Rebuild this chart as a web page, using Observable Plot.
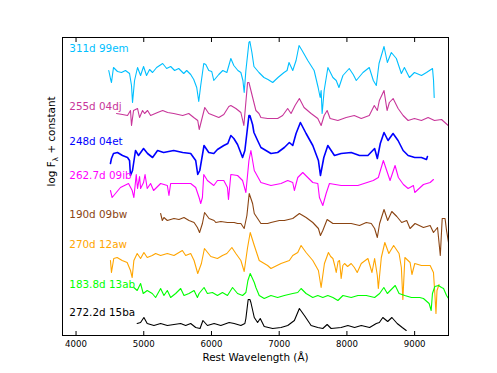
<!DOCTYPE html>
<html><head><meta charset="utf-8">
<script src="https://cdn.jsdelivr.net/npm/d3@7"></script>
<script src="https://cdn.jsdelivr.net/npm/@observablehq/plot@0.6"></script>
<style>body{margin:0;background:#fff}</style>
</head><body><div id="chart"></div>
<script>
const xTicks = [4000, 5000, 6000, 7000, 8000, 9000];
const xLabel = "Rest Wavelength (Å)";
const yLabel = "log Fλ + constant";
const seriesNames = ["99em", "04dj", "04et", "09ib", "09bw", "12aw", "13ab", "15ba"];
const seriesLabels = ["311d 99em", "255d 04dj", "248d 04et", "262.7d 09ib", "190d 09bw", "270d 12aw", "183.8d 13ab", "272.2d 15ba"];
const seriesColors = ["#00bfff", "#c8369a", "#0000ff", "#ff00ff", "#8b4513", "#ffa500", "#00ff00", "#000000"];
const seriesWidths = [1.1, 1.1, 1.6, 1.1, 1.1, 1.1, 1.1, 1.1];
const labelLevel = [287, 229, 194, 160, 121, 91, 50.5, 22.5];
const labelWavelength = 3900;

// [rest wavelength (Å), log flux + constant (arbitrary units)]
const spec99em = [[4483,265],[4508,257],[4523,253],[4553,268],[4612,264],[4671,263],[4730,265],[4790,262],[4819,250],[4834,233],[4864,255],[4908,268],[4953,260],[4997,269],[5041,260],[5086,266],[5130,263],[5190,268],[5279,272],[5338,267],[5397,269],[5456,265],[5516,267],[5590,262],[5634,265],[5693,261],[5738,256],[5782,248],[5812,234],[5841,250],[5886,272],[5916,271],[5960,265],[6004,264],[6034,255],[6108,261],[6167,265],[6227,263],[6286,277],[6330,270],[6390,265],[6434,263],[6464,255],[6483,243],[6508,265],[6553,293],[6567,294],[6597,283],[6627,269],[6701,263],[6775,258],[6834,256],[6904,253],[6982,258],[7071,263],[7116,265],[7145,273],[7200,265],[7249,275],[7293,290],[7338,285],[7422,275],[7516,265],[7575,248],[7605,238],[7619,245],[7634,222],[7664,245],[7719,268],[7793,258],[7842,255],[7882,248],[7941,260],[8034,267],[8093,261],[8138,255],[8237,263],[8330,268],[8390,255],[8434,250],[8474,272],[8548,289],[8597,273],[8656,283],[8730,277],[8804,262],[8849,268],[8923,258],[8997,263],[9101,260],[9175,263],[9264,267],[9279,255],[9289,238]];
const spec04dj = [[4597,222],[4686,221],[4760,220],[4804,225],[4819,210],[4849,225],[4908,227],[4938,218],[4982,225],[5012,222],[5056,225],[5101,220],[5204,223],[5279,225],[5353,223],[5442,222],[5575,220],[5664,222],[5738,218],[5797,215],[5819,206],[5871,220],[5901,228],[5960,222],[6034,220],[6108,218],[6182,221],[6256,229],[6286,230],[6360,227],[6434,223],[6478,210],[6533,253],[6553,253],[6608,238],[6656,225],[6701,222],[6730,218],[6829,217],[6977,217],[7051,220],[7125,227],[7175,222],[7234,230],[7298,237],[7367,228],[7471,222],[7570,217],[7619,210],[7664,220],[7708,225],[7752,217],[7866,215],[7989,218],[8108,220],[8212,217],[8330,220],[8404,230],[8449,225],[8479,235],[8548,245],[8593,225],[8627,233],[8682,237],[8756,227],[8830,220],[8904,215],[8997,217],[9100,215],[9199,218],[9293,215],[9397,216],[9496,210]];
const spec04et = [[4508,172],[4523,177],[4553,182],[4612,183],[4686,180],[4760,178],[4790,175],[4804,160],[4834,165],[4878,185],[4923,180],[4997,187],[5056,182],[5130,178],[5204,185],[5293,183],[5442,185],[5575,183],[5693,182],[5767,175],[5797,161],[5827,165],[5890,190],[5960,183],[6034,182],[6088,186],[6182,190],[6241,192],[6286,200],[6330,197],[6385,191],[6459,178],[6493,185],[6553,220],[6567,220],[6607,211],[6627,203],[6681,195],[6730,188],[6878,182],[6977,183],[7076,188],[7150,193],[7200,190],[7249,202],[7313,213],[7397,202],[7496,190],[7579,175],[7609,160],[7659,178],[7718,190],[7816,180],[7915,182],[8063,183],[8186,180],[8310,180],[8409,187],[8449,177],[8493,192],[8548,203],[8607,195],[8681,202],[8755,195],[8830,185],[8904,180],[9002,178],[9100,178],[9175,176],[9189,179]];
const spec09ib = [[4508,145],[4533,138],[4582,142],[4656,148],[4775,152],[4829,145],[4854,138],[4889,161],[4908,147],[4938,159],[4953,147],[4997,153],[5019,161],[5051,147],[5101,152],[5145,145],[5249,152],[5348,150],[5372,140],[5397,152],[5545,152],[5693,152],[5767,148],[5817,138],[5841,132],[5866,138],[5886,161],[5940,155],[6034,150],[6088,155],[6182,155],[6236,148],[6251,136],[6286,161],[6385,160],[6459,155],[6508,143],[6553,175],[6582,185],[6632,165],[6730,153],[6878,150],[7027,152],[7126,155],[7200,153],[7224,145],[7274,158],[7348,163],[7422,158],[7496,153],[7570,152],[7594,138],[7644,130],[7693,142],[7742,152],[7915,150],[8162,150],[8389,155],[8464,158],[8538,175],[8587,165],[8637,155],[8711,170],[8760,158],[8834,151],[8904,147],[8982,150],[9002,143],[9130,151],[9229,153],[9278,156]];
const spec09bw = [[5249,122],[5274,115],[5298,118],[5348,115],[5446,117],[5520,116],[5594,118],[5668,115],[5743,113],[5792,108],[5824,103],[5866,112],[5898,123],[5964,117],[6039,115],[6064,113],[6138,114],[6236,113],[6335,113],[6385,112],[6434,112],[6483,107],[6523,120],[6557,142],[6607,132],[6632,122],[6681,117],[6730,112],[6829,112],[6878,113],[7002,115],[7076,115],[7200,117],[7298,122],[7397,118],[7496,113],[7579,107],[7609,100],[7644,105],[7708,116],[7793,112],[7915,112],[8063,112],[8186,110],[8286,113],[8360,112],[8409,107],[8449,98],[8483,112],[8548,126],[8602,115],[8663,124],[8737,119],[8809,113],[8883,115],[8932,107],[9006,112],[9130,108],[9229,110],[9278,103],[9338,108],[9379,80],[9407,117],[9449,117],[9471,105],[9500,93]];
const spec12aw = [[4508,75],[4523,63],[4557,77],[4607,78],[4681,75],[4755,73],[4804,65],[4829,58],[4854,75],[4903,82],[4953,77],[5002,83],[5051,78],[5125,80],[5175,82],[5249,80],[5348,82],[5446,80],[5570,85],[5619,80],[5693,82],[5743,75],[5797,62],[5851,72],[5896,87],[5990,79],[6088,77],[6162,80],[6227,82],[6301,88],[6360,82],[6434,75],[6483,64],[6533,88],[6572,103],[6632,90],[6705,75],[6829,70],[6878,67],[7027,72],[7150,75],[7200,80],[7274,83],[7323,90],[7397,83],[7496,75],[7579,65],[7619,48],[7668,72],[7727,83],[7760,79],[7793,77],[7820,70],[7842,63],[7870,74],[7891,75],[7915,57],[7940,70],[7965,72],[8010,69],[8063,72],[8110,68],[8152,63],[8212,72],[8310,77],[8340,70],[8370,63],[8409,77],[8449,60],[8464,47],[8508,78],[8560,93],[8619,82],[8690,90],[8770,82],[8804,68],[8826,36],[8856,78],[8933,73],[8960,61],[9002,72],[9100,70],[9229,70],[9278,63],[9300,40],[9315,22],[9330,45],[9360,51]];
const spec13ab = [[4853,48],[4903,45],[4953,52],[4992,42],[5051,45],[5125,42],[5175,38],[5249,47],[5298,40],[5348,45],[5397,38],[5471,42],[5545,47],[5594,40],[5668,42],[5743,45],[5792,38],[5817,42],[5890,48],[5940,42],[6014,43],[6088,40],[6162,43],[6236,40],[6311,48],[6385,42],[6459,40],[6508,43],[6538,55],[6572,62],[6632,53],[6656,48],[6705,40],[6779,37],[6878,40],[6977,38],[7076,40],[7200,42],[7274,43],[7323,47],[7397,42],[7496,38],[7570,40],[7644,38],[7718,40],[7793,38],[7867,35],[7941,40],[8063,38],[8162,40],[8286,40],[8409,38],[8483,42],[8545,48],[8597,42],[8713,50],[8770,42],[8853,40],[8952,38],[9075,38],[9130,37],[9214,32],[9244,25],[9263,42],[9298,49],[9353,50],[9397,48],[9427,47],[9471,40],[9500,37]];
const spec15ba = [[4903,12],[4953,13],[5002,18],[5051,12],[5150,10],[5249,12],[5348,10],[5446,11],[5545,12],[5619,10],[5693,12],[5767,8],[5831,7],[5874,15],[5940,10],[6039,12],[6138,10],[6261,13],[6335,12],[6434,10],[6493,12],[6508,17],[6542,36],[6567,36],[6582,33],[6632,18],[6681,13],[6720,17],[6779,9],[6903,7],[7027,8],[7126,10],[7224,15],[7298,27],[7372,20],[7471,10],[7570,8],[7644,7],[7708,11],[7767,7],[7915,8],[8014,10],[8113,8],[8212,10],[8335,8],[8434,12],[8479,13],[8530,18],[8602,14],[8664,18],[8742,12],[8817,8],[8876,5]];

const spectra = [spec99em, spec04dj, spec04et, spec09ib, spec09bw, spec12aw, spec13ab, spec15ba];
const labelRows = seriesLabels.map((t, i) => ({text: t, x: labelWavelength, y: labelLevel[i], color: seriesColors[i]}));

const chart = Plot.plot({
  width: 497,
  height: 373,
  marginLeft: 62,
  marginRight: 49,
  marginTop: 37,
  marginBottom: 38,
  style: {fontFamily: "DejaVu Sans", fontSize: "8.6px", background: "white", color: "black"},
  x: {domain: [3800, 9500]},
  y: {domain: [0, 298]},
  marks: [
    ...spectra.map((s, i) => Plot.line(s, {x: d => d[0], y: d => d[1], stroke: seriesColors[i], strokeWidth: seriesWidths[i], clip: true})),
    Plot.text(labelRows, {x: "x", y: "y", text: "text", fill: "color", textAnchor: "start", lineAnchor: "middle", fontSize: 10.4}),
    Plot.axisX({anchor: "bottom", ticks: xTicks, tickSize: -4, tickPadding: 9.5, tickFormat: d => String(d), label: null, fontSize: 8.6}),
    Plot.axisX({anchor: "top", ticks: xTicks, tickSize: -4, tickFormat: () => "", label: null}),
    Plot.axisY({ticks: [], label: null}),
    Plot.text([xLabel], {frameAnchor: "bottom", dy: 22, text: d => d, lineAnchor: "middle", fontSize: 10.4}),
    Plot.text([yLabel], {frameAnchor: "left", dx: -11, rotate: -90, text: d => d, lineAnchor: "middle", fontSize: 10.4}),
    Plot.frame({stroke: "black", strokeWidth: 1})
  ]
});

// subscript λ in the y label
const yl = [...chart.querySelectorAll("text")].find(n => n.textContent === yLabel);
if (yl) {
  yl.textContent = "";
  const ns = "http://www.w3.org/2000/svg";
  const a = document.createElementNS(ns, "tspan"); a.textContent = "log F"; yl.appendChild(a);
  const b = document.createElementNS(ns, "tspan"); b.textContent = "λ"; b.setAttribute("dy", "3"); b.setAttribute("font-size", "7.5"); yl.appendChild(b);
  const c = document.createElementNS(ns, "tspan"); c.textContent = " + constant"; c.setAttribute("dy", "-3"); yl.appendChild(c);
}
document.getElementById("chart").appendChild(chart);
</script>
</body></html>
